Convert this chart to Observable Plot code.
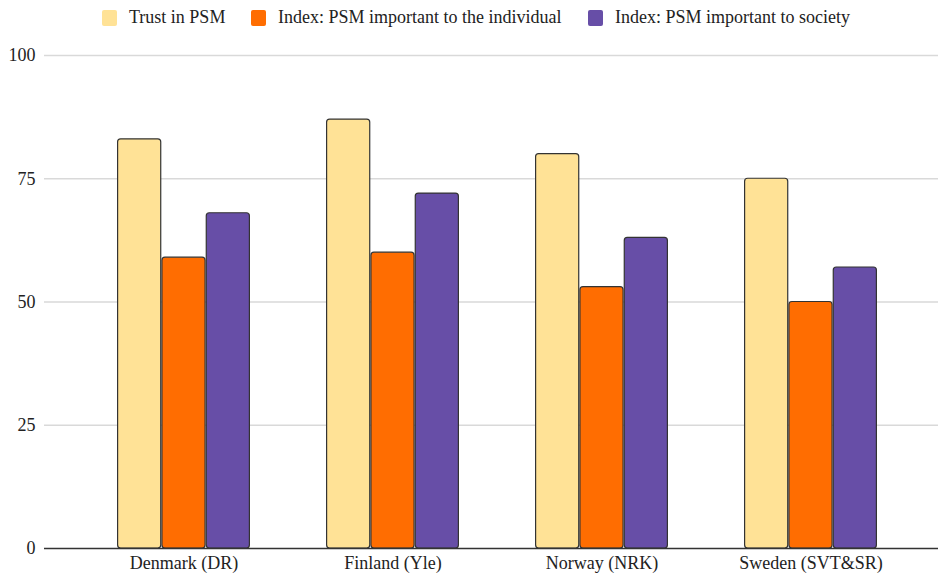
<!DOCTYPE html>
<html>
<head>
<meta charset="utf-8">
<script src="https://cdn.jsdelivr.net/npm/d3@7"></script>
<script src="https://cdn.jsdelivr.net/npm/@observablehq/plot@0.6"></script>
<style>
  html, body { margin: 0; padding: 0; background: #fff; }
  body { width: 938px; height: 575px; overflow: hidden; font-family: "Liberation Serif", "DejaVu Serif", serif; }
  #legend { height: 35px; position: relative; font-size: 18px; color: #222; }
  .item { display: flex; align-items: center; position: absolute; top: 7px; }
  .sw { width: 15px; height: 16px; border-radius: 2px; margin-right: 12px; }
  #chart svg { display: block; }
</style>
</head>
<body>
<div id="legend"></div>
<div id="chart"></div>
<script>
const countries = ["Denmark (DR)", "Finland (Yle)", "Norway (NRK)", "Sweden (SVT&SR)"];
const seriesNames = ["Trust in PSM", "Index: PSM important to the individual", "Index: PSM important to society"];
const trust = [83, 87, 80, 75];
const individual = [59, 60, 53, 50];
const society = [68, 72, 63, 57];
const colors = ["#FFE296", "#FF6D01", "#674EA7"];
const yTicks = [0, 25, 50, 75, 100];

const seriesValues = [trust, individual, society];
const rows = [];
seriesNames.forEach((s, i) => countries.forEach((c, j) => rows.push({country: c, series: s, value: seriesValues[i][j]})));

// legend
const legend = document.getElementById("legend");
const legendX = [102, 251, 588];
seriesNames.forEach((s, i) => {
  const it = document.createElement("div");
  it.className = "item";
  it.style.left = legendX[i] + "px";
  const sw = document.createElement("span");
  sw.className = "sw";
  sw.style.background = colors[i];
  const t = document.createElement("span");
  t.textContent = s;
  it.appendChild(sw); it.appendChild(t);
  legend.appendChild(it);
});

const bw = 133;
const chart = Plot.plot({
  width: 938,
  height: 540,
  marginLeft: 44,
  marginRight: 0,
  marginTop: 20,
  marginBottom: 27,
  style: {fontFamily: "'Liberation Serif', serif", fontSize: "18px", color: "#222", background: "white", overflow: "visible"},
  x: {domain: countries, paddingInner: 0.363, paddingOuter: 0.32, align: 0.548, label: null, tickSize: 0, tickPadding: 8},
  y: {domain: [0, 100], ticks: yTicks, label: null, tickSize: 0, tickPadding: 9},
  marks: [
    Plot.ruleY(yTicks.filter(d => d > 0), {stroke: "#d9d9d9", strokeWidth: 1.3}),
    ...seriesNames.map((s, i) => Plot.barY(rows.filter(d => d.series === s), {
      x: "country", y: "value", fill: colors[i], stroke: "#333", strokeWidth: 1.2, rx: 3,
      insetLeft: i * bw / 3 + 0.6, insetRight: (2 - i) * bw / 3 + 0.6
    })),
    Plot.ruleY([0], {stroke: "#333", strokeWidth: 1.3})
  ]
});
document.getElementById("chart").appendChild(chart);
</script>
</body>
</html>
